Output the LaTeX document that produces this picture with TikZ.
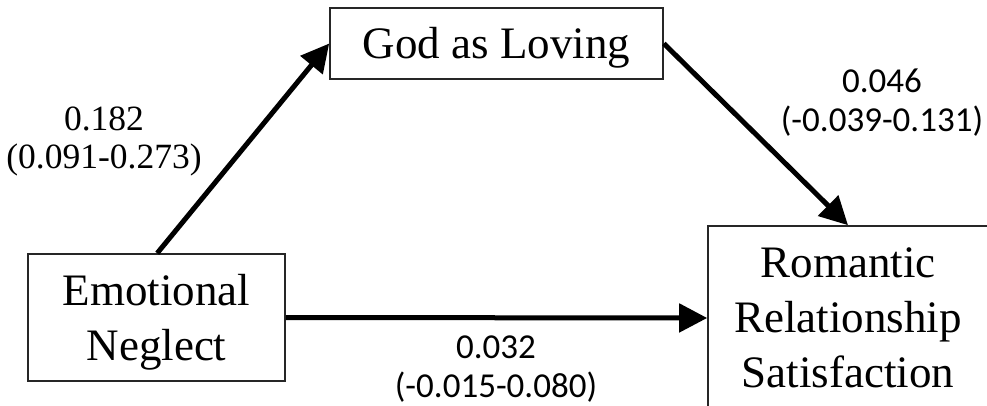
\documentclass[tikz,border=0pt]{standalone}
\usepackage{fontspec}
\setmainfont{Liberation Serif}
\newfontfamily\labsans{Carlito}
\usetikzlibrary{arrows.meta}
\tikzset{
  box/.style={draw=black!85, line width=1.6pt, inner sep=0pt},
  boxtext/.style={font=\fontsize{45}{55}\selectfont, align=center, inner sep=0pt},
  arr/.style={line width=5pt, -{Triangle[length=28pt,width=28pt]}, shorten >=0pt},
  labserif/.style={font=\fontsize{35.5}{38}\selectfont, align=center, inner sep=0pt},
  labsans/.style={font=\labsans\fontsize{35}{39}\selectfont, align=center, inner sep=0pt}
}
\begin{document}
\begin{tikzpicture}[x=1pt,y=-1pt]
\useasboundingbox (0,0) rectangle (987,406);
\fill[white] (0,0) rectangle (987,406);
\clip (0,0) rectangle (987,406);
\node[box, minimum width=333pt, minimum height=71pt] (god) at (496.5,43.5) {};
\node[boxtext, anchor=base] (godtext) at (496.5,59) {God as Loving};
\node[box, minimum width=257pt, minimum height=127pt] (en) at (156.5,317.5) {};
\node[boxtext, anchor=base] (entext) at (156.5,360) {Emotional\\Neglect};
\node[box, minimum width=280pt, minimum height=184pt] (rrs) at (848,318) {};
\node[boxtext, anchor=base] (rrstext) at (848,387) {Romantic\\Relationship\\Satisfaction};
\draw[arr] ([xshift=130pt]en.north west) -- (god.west);
\draw[arr] (god.east) -- (rrs.north);
\draw[arr] (en.east) -- (rrs.west);
\node[labserif, anchor=base] (l1) at (104,168) {0.182\\(0.091-0.273)};
\node[labsans, anchor=base] (l2) at (882,132) {0.046\\(-0.039-0.131)};
\node[labsans, anchor=base] (l3) at (496,397) {0.032\\(-0.015-0.080)};
\end{tikzpicture}
\end{document}
